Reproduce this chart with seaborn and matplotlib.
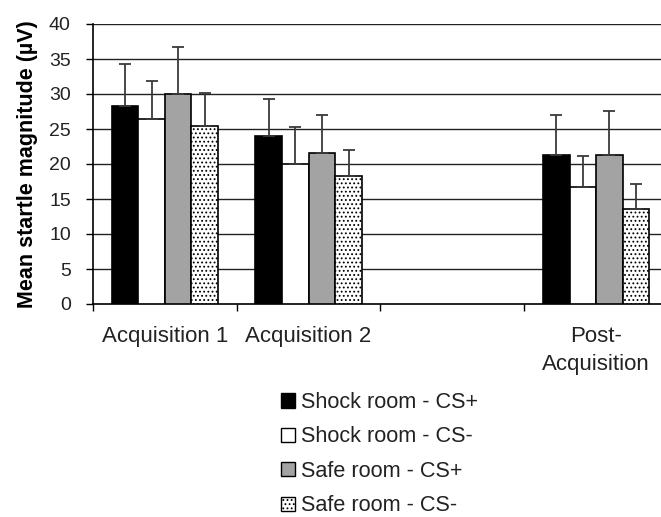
import matplotlib
matplotlib.use("Agg")
import matplotlib.pyplot as plt
from matplotlib.patches import Patch
from matplotlib.container import BarContainer
import seaborn as sns
import pandas as pd
import numpy as np

phases = ["Acquisition 1", "Acquisition 2", "", "Post-\nAcquisition"]
data_phases = ["Acquisition 1", "Acquisition 2", "Post-\nAcquisition"]
conditions = ["Shock room - CS+", "Shock room - CS-", "Safe room - CS+", "Safe room - CS-"]

shock_cs_plus = [28.3, 24.0, 21.3]
shock_cs_minus = [26.5, 20.0, 16.7]
safe_cs_plus = [30.0, 21.6, 21.3]
safe_cs_minus = [25.5, 18.3, 13.6]

shock_cs_plus_err = [6.0, 5.3, 5.7]
shock_cs_minus_err = [5.4, 5.3, 4.4]
safe_cs_plus_err = [6.7, 5.4, 6.3]
safe_cs_minus_err = [4.7, 3.7, 3.6]

yticks = [0, 5, 10, 15, 20, 25, 30, 35, 40]

means = [shock_cs_plus, shock_cs_minus, safe_cs_plus, safe_cs_minus]
errs = [shock_cs_plus_err, shock_cs_minus_err, safe_cs_plus_err, safe_cs_minus_err]

rows = []
for c, vals in zip(conditions, means):
    for p, v in zip(data_phases, vals):
        rows.append({"phase": p, "condition": c, "mean": v})
df = pd.DataFrame(rows)

sns.set_theme(style="white")
plt.rcParams["font.family"] = ["Liberation Sans", "DejaVu Sans"]
plt.rcParams["hatch.linewidth"] = 0.8

fig = plt.figure(figsize=(6.61, 5.17), dpi=100)
ax = fig.add_axes([93 / 661, 213 / 517, (668 - 93) / 661, 280 / 517])

fills = ["black", "white", "#a3a3a3", "white"]
sns.barplot(data=df, x="phase", y="mean", hue="condition", order=phases,
            hue_order=conditions, palette=fills, saturation=1, errorbar=None,
            width=0.74, edgecolor="black", linewidth=1.2, legend=False, ax=ax,
            zorder=3)

bar_conts = [c for c in ax.containers if isinstance(c, BarContainer)]
for i, cont in enumerate(bar_conts):
    patches = sorted(cont.patches, key=lambda p: p.get_x())
    xs = [p.get_x() + p.get_width() / 2 for p in patches]
    hs = [p.get_height() for p in patches]
    if i == 3:
        for p in patches:
            p.set_hatch("....")
    ax.errorbar(xs, hs, yerr=[np.zeros(len(hs)), errs[i]], fmt="none",
                ecolor="#3a3a3a", elinewidth=1.3, capsize=4, capthick=1.3,
                zorder=4)

ax.set_ylim(0, 40)
ax.set_xlim(-0.5, 3.5)
ax.set_yticks(yticks)
ax.set_yticklabels([str(t) for t in yticks], fontsize=14, color="#222222")
for t in yticks[1:]:
    ax.axhline(t, color="#222222", lw=1.0, zorder=1)

ax.set_xticks(range(len(phases)))
ax.set_xticklabels(phases, fontsize=16, color="#222222", linespacing=1.45)
ax.set_xticks([-0.5, 0.5, 1.5, 2.5], minor=True)
ax.tick_params(axis="x", which="major", length=0, pad=16)
ax.tick_params(axis="x", which="minor", length=5, width=1, color="black", direction="out", bottom=True)
ax.tick_params(axis="y", length=5, width=1, color="black", direction="out", left=True, pad=11)

ax.set_xlabel("")
ax.set_ylabel("Mean startle magnitude (\u00b5V)", fontsize=15.5, fontweight="bold",
              color="black", labelpad=8)

for s in ["top", "right"]:
    ax.spines[s].set_visible(False)
for s in ["left", "bottom"]:
    ax.spines[s].set_color("black")
    ax.spines[s].set_linewidth(1.2)

handles = [Patch(facecolor=fills[i], edgecolor="black", linewidth=1.0,
                 hatch="...." if i == 3 else None) for i in range(4)]
fig.legend(handles, conditions, loc="upper left", bbox_to_anchor=(281 / 661, 1 - 392 / 517),
           frameon=False, fontsize=15.6, handlelength=0.64, handleheight=0.64,
           handletextpad=0.28, labelspacing=0.62, borderpad=0, borderaxespad=0,
           labelcolor="#222222")

fig.savefig("out.png", dpi=100)
